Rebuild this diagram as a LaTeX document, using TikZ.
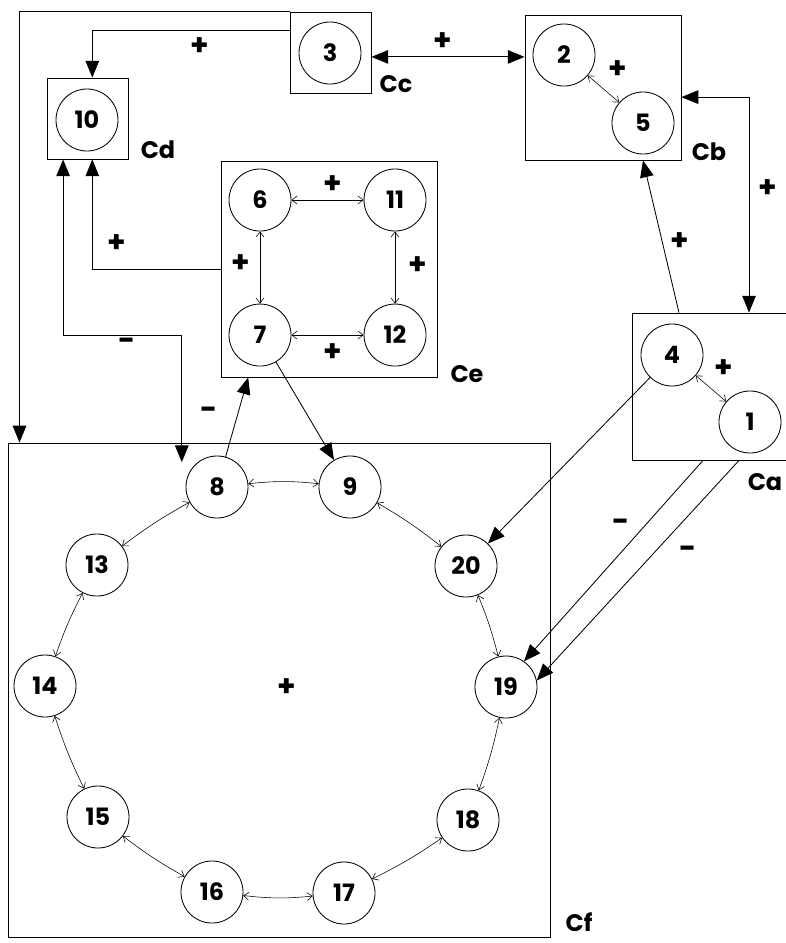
\documentclass[tikz,border=0pt]{standalone}
\usepackage{fontspec}
\setsansfont{Poppins}
\usetikzlibrary{positioning,arrows.meta}

\begin{document}
\begin{tikzpicture}[x=0.025cm, y=-0.025cm, node distance={3.375cm},
	font=\sffamily\bfseries\fontsize{17}{19}\selectfont,
	main/.style = {draw, circle, minimum size=1.55cm, inner sep=0pt, line width=0.6pt},
	comp/.style = {draw, rectangle, inner sep=0pt, line width=0.6pt},
	sign/.style = {font=\sffamily\bfseries\fontsize{21}{23}\selectfont},
	big/.style = {-{Triangle[length=0.42cm, width=0.34cm]}, line width=0.6pt},
	bigboth/.style = {{Triangle[length=0.42cm, width=0.34cm]}-{Triangle[length=0.42cm, width=0.34cm]}, line width=0.6pt},
	link/.style = {{Straight Barb[length=1.3mm, width=2mm]}-{Straight Barb[length=1.3mm, width=2mm]}, line width=0.4pt}]
	\useasboundingbox (0,0) rectangle (785,943);

	% Compartments
	\node[comp, minimum width=2.025cm, minimum height=2.025cm] (Cc) at (330.5,52.5) {};
	\node[comp, minimum width=2.025cm, minimum height=2.025cm] (Cd) at (87.5,118.5) {};
	\node[comp, minimum width=3.9cm, minimum height=3.625cm] (Cb) at (603,87.5) {};
	\node[comp, minimum width=5.4cm, minimum height=5.4cm] (Ce) at (329,269) {};
	\node[comp, minimum width=3.95cm, minimum height=3.675cm] (Ca) at (711,386.5) {};
	\node[comp, minimum width=13.55cm, minimum height=12.35cm] (Cf) at (279,690) {};

	\node (lCc) at (396,84) {Cc};
	\node (lCd) at (158,150) {Cd};
	\node (lCb) at (709,152) {Cb};
	\node (lCe) at (467,374) {Ce};
	\node (lCa) at (765,482) {Ca};
	\node (lCf) at (579,922) {Cf};

	% Species
	\node[main] (c3) at (330,53) {3};
	\node[main] (c10) at (87,120) {10};
	\node[main] (c2) at (564,55) {2};
	\node[main] (c5) at (643,123) {5};
	\node[main] (c6) at (260,200) {6};
	\node[main] (c11) [right of=c6] {11};
	\node[main] (c7) [below of=c6] {7};
	\node[main] (c12) [right of=c7] {12};
	\node[main] (c4) at (672,355) {4};
	\node[main] (c1) at (750,422) {1};

	\node[main] (c8) at (217,487) {8};
	\node[main] (c9) at (350,487) {9};
	\node[main] (c20) at (466,566) {20};
	\node[main] (c19) at (506,687) {19};
	\node[main] (c18) at (468,820) {18};
	\node[main] (c17) at (344,893) {17};
	\node[main] (c16) at (212,892) {16};
	\node[main] (c15) at (98,817) {15};
	\node[main] (c14) at (45,686) {14};
	\node[main] (c13) at (97,565) {13};

	% Links between compartments
	\coordinate (ccR) at ([yshift=-0.11cm]Cc.east);
	\coordinate (cdL) at ([xshift=-0.61cm]Cd.south);
	\coordinate (near8) at ([xshift=-0.88cm,yshift=0.62cm]c8.center);

	\draw[big] (Cc.north west) -| ([xshift=0.3cm]Cf.north west);
	\draw[big] ([yshift=0.54cm]Cc.west) -| ([xshift=0.12cm]Cd.north);
	\draw[bigboth] (ccR) -- (ccR -| Cb.west);
	\draw[bigboth] ([yshift=-0.24cm]Cb.east) -| ([xshift=0.95cm]Ca.north);
	\draw[big] ([xshift=-0.8cm]Ca.north) -- (c5 |- Cb.south);
	\draw[big] (c4) -- (c20);
	\draw[big] ([xshift=-0.2cm]Ca.south) -- (c19.55);
	\draw[big] ([xshift=0.7cm]Ca.south) -- (c19.12);
	\draw[big] (Ce.west) -| ([xshift=0.12cm]Cd.south);
	\draw[bigboth] (cdL) -- (cdL |- c7) -| (near8);
	\draw[big] (c8) -- ([xshift=-2.02cm]Ce.south);
	\draw[big] (c7) -- (c9);

	% Links inside compartments
	\draw[link] (c2) -- (c5);
	\draw[link] (c4) -- (c1);
	\draw[link] (c6) -- (c11);
	\draw[link] (c6) -- (c7);
	\draw[link] (c11) -- (c12);
	\draw[link] (c7) -- (c12);

	\draw[link] (c8) to[bend left=6] (c9);
	\draw[link] (c9) to[bend left=4] (c20);
	\draw[link] (c20) to[bend left=4] (c19);
	\draw[link] (c19) to[bend left=4] (c18);
	\draw[link] (c18) to[bend left=4] (c17);
	\draw[link] (c17) to[bend left=6] (c16);
	\draw[link] (c16) to[bend left=4] (c15);
	\draw[link] (c15) to[bend left=4] (c14);
	\draw[link] (c14) to[bend left=4] (c13);
	\draw[link] (c13) to[bend left=4] (c8);

	% Signs
	\node[sign] (s1) at (200,47) {+};
	\node[sign] (s2) at (443,42) {+};
	\node[sign] (s3) at (618,70) {+};
	\node[sign] (s4) at (768,189) {+};
	\node[sign] (s5) at (680,242) {+};
	\node[sign] (s6) at (724,369) {+};
	\node[sign] (s7) at (621,525) {-};
	\node[sign] (s8) at (688,552) {-};
	\node[sign] (s9) at (117,244) {+};
	\node[sign] (s10) at (127,344) {-};
	\node[sign] (s11) at (209,413) {-};
	\node[sign] (s12) at (333,185) {+};
	\node[sign] (s13) at (241,264) {+};
	\node[sign] (s14) at (418,266) {+};
	\node[sign] (s15) at (333,353) {+};
	\node[sign] (s16) at (287,688) {+};

\end{tikzpicture}
\end{document}
